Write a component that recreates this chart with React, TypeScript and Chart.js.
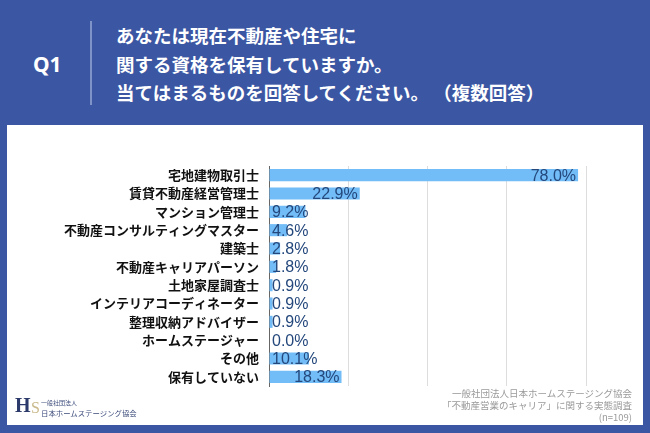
import React, { useEffect, useRef } from "react";
import { Chart, registerables } from "chart.js";

Chart.register(...registerables);

const categories = [
  "宅地建物取引士",
  "賃貸不動産経営管理士",
  "マンション管理士",
  "不動産コンサルティングマスター",
  "建築士",
  "不動産キャリアパーソン",
  "土地家屋調査士",
  "インテリアコーディネーター",
  "整理収納アドバイザー",
  "ホームステージャー",
  "その他",
  "保有していない",
];
const values = [78.0, 22.9, 9.2, 4.6, 2.8, 1.8, 0.9, 0.9, 0.9, 0.0, 10.1, 18.3];
const xMax = 80;
const xStep = 20;

const questionLines = [
  "あなたは現在不動産や住宅に",
  "関する資格を保有していますか。",
  "当てはまるものを回答してください。 （複数回答）",
];
const footLines = [
  "一般社団法人日本ホームステージング協会",
  "「不動産営業のキャリア」に関する実態調査",
  "(n=109)",
];

const BLUE = "#3b56a3";

const labelPlugin = {
  id: "valueLabels",
  afterDatasetsDraw(chart: any) {
    const { ctx } = chart;
    const meta = chart.getDatasetMeta(0);
    const xScale = chart.scales.x;
    const zero = xScale.getPixelForValue(0);
    ctx.save();
    ctx.font = "16px 'Liberation Sans', Arial, sans-serif";
    ctx.fillStyle = "#24487c";
    ctx.textBaseline = "middle";
    ctx.textAlign = "left";
    meta.data.forEach((bar: any, i: number) => {
      const txt = values[i].toFixed(1) + "%";
      const w = ctx.measureText(txt).width;
      const x = Math.max(bar.x - 2 - w, zero + 3);
      ctx.fillText(txt, x, bar.y + 1);
    });
    ctx.restore();
  },
};

export default function App() {
  const ref = useRef<HTMLCanvasElement>(null);
  useEffect(() => {
    if (!ref.current) return;
    const chart = new Chart(ref.current, {
      type: "bar",
      data: {
        labels: categories,
        datasets: [
          {
            data: values,
            backgroundColor: "#72bcf7",
            borderWidth: 0,
            categoryPercentage: 0.66,
            barPercentage: 1,
          },
        ],
      },
      options: {
        indexAxis: "y",
        animation: false,
        responsive: false,
        maintainAspectRatio: false,
        layout: { padding: { left: 0, top: 41, right: 57, bottom: 39 } },
        plugins: {
          legend: { display: false },
          tooltip: { enabled: false },
        },
        scales: {
          x: {
            min: 0,
            max: xMax,
            ticks: { display: false, stepSize: xStep },
            grid: { color: "#dddddd", drawTicks: false, lineWidth: 1 },
            border: { display: false },
            afterFit: (s: any) => {
              s.height = 0;
            },
          },
          y: {
            ticks: {
              autoSkip: false,
              color: "#111111",
              padding: 10,
              font: { size: 13, weight: "bold", family: "'Noto Sans CJK JP', sans-serif" },
            },
            grid: { display: false, drawTicks: false },
            border: { display: true, color: "#666666", width: 1 },
            afterFit: (s: any) => {
              s.width = 262;
            },
          },
        },
      },
      plugins: [labelPlugin],
    });
    return () => chart.destroy();
  }, []);

  const jp = "'Noto Sans CJK JP', sans-serif";
  return (
    <div
      style={{
        position: "absolute",
        left: 0,
        top: 0,
        width: 650,
        height: 433,
        background: BLUE,
        overflow: "hidden",
        fontFamily: jp,
      }}
    >
      <div
        style={{
          position: "absolute",
          left: 33,
          top: 50,
          color: "#fff",
          fontSize: 21,
          fontWeight: "bold",
          fontFamily: "'Noto Sans', sans-serif",
          lineHeight: "28px",
        }}
      >
        Q1
      </div>
      <div
        style={{
          position: "absolute",
          left: 90,
          top: 21,
          width: 2,
          height: 84,
          background: "#7f93c8",
        }}
      />
      <div
        style={{
          position: "absolute",
          left: 116,
          top: 21,
          color: "#fff",
          fontSize: 18.5,
          fontWeight: "bold",
          lineHeight: "28.5px",
          whiteSpace: "pre",
        }}
      >
        {questionLines.map((l, i) => (
          <div key={i}>{l}</div>
        ))}
      </div>
      <div
        style={{
          position: "absolute",
          left: 7,
          top: 125,
          width: 636,
          height: 300,
          background: "#fff",
        }}
      >
        <canvas ref={ref} width={636} height={300} style={{ display: "block" }} />
        <div
          style={{
            position: "absolute",
            right: 11,
            top: 262,
            textAlign: "right",
            color: "#9a9a9a",
            fontSize: 9.5,
            lineHeight: "12px",
            whiteSpace: "nowrap",
          }}
        >
          {footLines.map((l, i) => (
            <div key={i}>{l}</div>
          ))}
        </div>
        <div style={{ position: "absolute", left: 8, top: 272, width: 20, height: 17 }}>
          <div
            style={{
              position: "absolute",
              left: 0,
              top: 0,
              color: "#2b3a6b",
              fontSize: 20,
              fontWeight: "bold",
              fontFamily: "'Liberation Serif', serif",
              lineHeight: "17px",
            }}
          >
            H
          </div>
          <div
            style={{
              position: "absolute",
              left: 16,
              top: 2,
              color: "#c9b98a",
              fontSize: 16,
              fontFamily: "'Liberation Serif', serif",
              lineHeight: "17px",
            }}
          >
            S
          </div>
        </div>
        <div
          style={{
            position: "absolute",
            left: 34,
            top: 274,
            color: "#3a4a7a",
            fontSize: 6,
            lineHeight: "7px",
            whiteSpace: "nowrap",
          }}
        >
          一般社団法人
        </div>
        <div
          style={{
            position: "absolute",
            left: 34,
            top: 283,
            color: "#3a4a7a",
            fontSize: 7.4,
            lineHeight: "9px",
            whiteSpace: "nowrap",
          }}
        >
          日本ホームステージング協会
        </div>
      </div>
    </div>
  );
}
